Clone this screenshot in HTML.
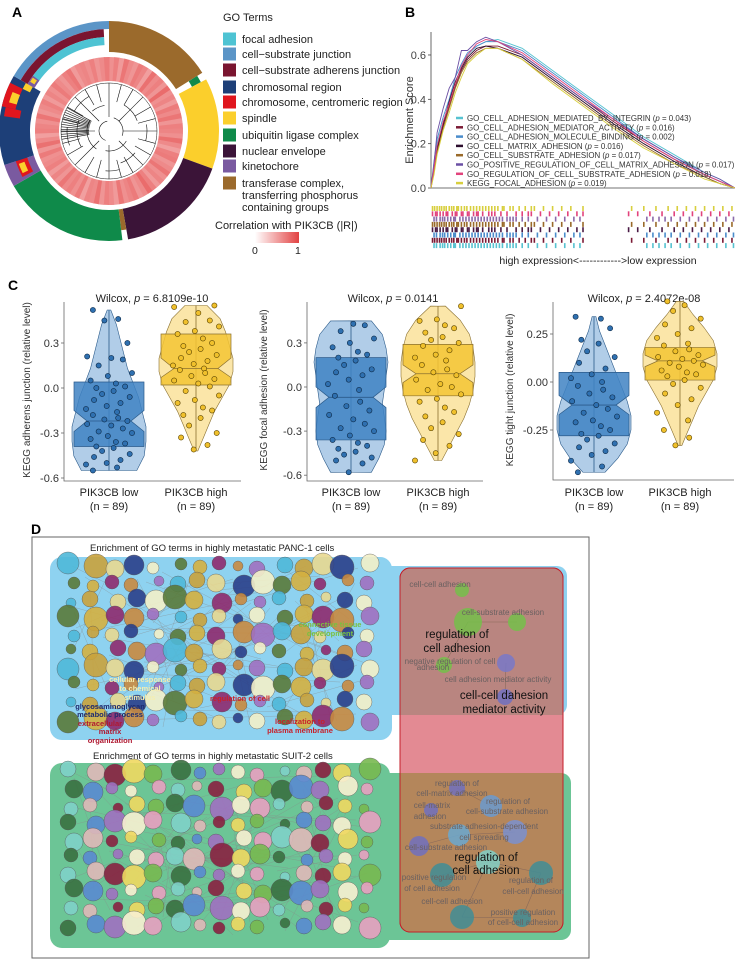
<!DOCTYPE html>
<html><head><meta charset="utf-8">
<style>
html,body{margin:0;padding:0;background:#fff;}
svg{display:block;font-family:"Liberation Sans",Arial,sans-serif;}
</style></head>
<body>
<svg id="fig" width="735" height="961" viewBox="0 0 735 961" xmlns="http://www.w3.org/2000/svg"></svg>
<script>
// ---------- DATA ----------
// Panel A
const goTerms = ["focal adhesion","cell\u2212substrate junction","cell\u2212substrate adherens junction","chromosomal region","chromosome, centromeric region"," spindle","ubiquitin ligase complex","nuclear envelope","kinetochore","transferase complex,"];
const goColors = ["#4ec3d3","#5b95c7","#7a1530","#1d3f78","#e0161e","#fbcf2c","#0f8a4a","#3b1438","#7a5aa0","#9b6a2c"];
// outer ring segments: [startDeg, endDeg, term index, rInner, rOuter]
const ringSegs = [[0,58,9,79,110],[58,62,6,94,104],[62,110,5,79,110],[110,170,7,79,110],[170,173,9,79,100],[173,240,6,79,110],
 [240,252,8,79,110],[242,256,4,86,98],[244,250,5,90,96],[252,300,3,79,110],[278,283,4,90,106],[283,296,4,96,110],[286,292,5,96,104],
 [296,300,5,88,96],[300,360,1,102,110],[300,357,2,94,102],[305,357,0,86,94],[300,306,8,86,94],[302,305,5,88,93]];
const heatVals = [0.55,0.7,0.45,0.8,0.6,0.5,0.75,0.65,0.4,0.85,0.6,0.7,0.5,0.9,0.55,0.65,0.45,0.75,0.6,0.8,0.5,0.7,0.65,0.55,0.85,0.6,0.4,0.7,0.75,0.5,
 0.6,0.8,0.55,0.65,0.45,0.7,0.9,0.6,0.5,0.75,0.65,0.55,0.8,0.45,0.6,0.7,0.5,0.85,0.6,0.65,0.4,0.75,0.55,0.7,0.6,0.8,0.5,0.65,0.45,0.7,
 0.6,0.55,0.75,0.5,0.85,0.6,0.4,0.7,0.65,0.55,0.8,0.5,0.6,0.7,0.45,0.65,0.55,0.75,0.6,0.5,0.7,0.8,0.45,0.6,0.65,0.55,0.7,0.5,0.6,0.75];
// Panel B
const gseaNames = ["GO_CELL_ADHESION_MEDIATED_BY_INTEGRIN","GO_CELL_ADHESION_MEDIATOR_ACTIVITY","GO_CELL_ADHESION_MOLECULE_BINDING","GO_CELL_MATRIX_ADHESION","GO_CELL_SUBSTRATE_ADHESION","GO_POSITIVE_REGULATION_OF_CELL_MATRIX_ADHESION","GO_REGULATION_OF_CELL_SUBSTRATE_ADHESION","KEGG_FOCAL_ADHESION"];
const gseaP = ["0.043","0.016","0.002","0.016","0.017","0.017","0.018","0.019"];
const gseaColors = ["#56c2d0","#7b1a35","#4a8ccb","#2b0d2d","#9a6a2a","#6a4fa4","#e2437c","#d8cf3e"];
const gseaX = [0,0.01,0.02,0.04,0.06,0.08,0.1,0.12,0.15,0.18,0.22,0.3,0.4,0.5,0.6,0.7,0.8,0.9,0.95,1];
const es0 = [0,0.1,0.2,0.3,0.38,0.47,0.55,0.6,0.64,0.66,0.67,0.63,0.53,0.43,0.33,0.23,0.15,0.07,0.04,0];
const es1 = [0,0.08,0.17,0.28,0.37,0.46,0.53,0.58,0.62,0.64,0.64,0.6,0.5,0.4,0.3,0.21,0.13,0.06,0.03,0];
const es2 = [0,0.12,0.22,0.32,0.4,0.5,0.56,0.61,0.64,0.66,0.66,0.62,0.52,0.42,0.32,0.22,0.14,0.06,0.03,0];
const es3 = [0,0.09,0.18,0.29,0.39,0.48,0.54,0.59,0.63,0.64,0.63,0.59,0.49,0.39,0.29,0.2,0.12,0.05,0.02,0];
const es4 = [0,0.07,0.16,0.27,0.36,0.45,0.52,0.57,0.61,0.63,0.63,0.58,0.48,0.38,0.28,0.19,0.11,0.05,0.02,0];
const es5 = [0,0.11,0.25,0.36,0.45,0.5,0.62,0.62,0.66,0.68,0.66,0.6,0.5,0.4,0.31,0.22,0.14,0.07,0.04,0];
const es6 = [0,0.09,0.19,0.3,0.38,0.47,0.55,0.6,0.65,0.67,0.66,0.61,0.51,0.41,0.31,0.21,0.13,0.06,0.03,0];
const es7 = [0,0.06,0.15,0.26,0.34,0.43,0.5,0.56,0.6,0.63,0.63,0.58,0.47,0.37,0.27,0.18,0.11,0.04,0.02,0];
const esSeries = [es0,es1,es2,es3,es4,es5,es6,es7];
const esTicks = [0,0.2,0.4,0.6];
const rugA = [0.005,0.012,0.02,0.028,0.035,0.043,0.05,0.06,0.068,0.075,0.085,0.09,0.1,0.11,0.118,0.13,0.14,0.15,0.16,0.17,0.18,0.19,0.2,0.21,0.22,0.235,0.24,0.26,0.27,0.29,0.31,0.33,0.34,0.37,0.4,0.43,0.46,0.5,0.66,0.7,0.74,0.78,0.81,0.84,0.87,0.9,0.93,0.96,0.99];
const rugB = [0.005,0.015,0.02,0.03,0.04,0.05,0.055,0.07,0.08,0.085,0.1,0.105,0.12,0.125,0.14,0.15,0.155,0.17,0.19,0.2,0.21,0.23,0.25,0.28,0.3,0.32,0.33,0.36,0.39,0.42,0.45,0.48,0.5,0.65,0.68,0.72,0.76,0.8,0.83,0.86,0.89,0.92,0.95,0.98];
const rugC = [0.01,0.018,0.03,0.038,0.045,0.055,0.065,0.075,0.08,0.095,0.105,0.115,0.125,0.135,0.145,0.155,0.165,0.175,0.185,0.195,0.205,0.215,0.225,0.235,0.25,0.26,0.27,0.28,0.3,0.32,0.35,0.38,0.41,0.44,0.47,0.49,0.71,0.73,0.75,0.77,0.79,0.82,0.85,0.88,0.91,0.94,0.97,0.995];
const rugRows = [rugA,rugB,rugC,rugA,rugB,rugC,rugA,rugC];
const rugColors = ["#d8cf3e","#e2437c","#8a6aaa","#9a6a2a","#4a1a45","#4a8ccb","#7b1a35","#56c2d0"];
// Panel C
const groups = ["PIK3CB low","PIK3CB high"];
const pTitles = ["Wilcox, p = 6.8109e-10","Wilcox, p = 0.0141","Wilcox, p = 2.4072e-08"];
const yTitles = ["KEGG adherens junction (relative level)","KEGG focal adhesion (relative level)","KEGG tight junction (relative level)"];
const ticks1 = [0.3,0,-0.3,-0.6], tickLab1 = ["0.3","0.0","-0.3","-0.6"];
const ticks2 = [0.3,0,-0.3,-0.6], tickLab2 = ["0.3","0.0","-0.3","-0.6"];
const ticks3 = [0.25,0,-0.25], tickLab3 = ["0.25","0.00","-0.25"];
// box stats: [whiskerTop, q3, notchHi, median, notchLo, q1, whiskerBot]
const box1L = [0.52,0.04,-0.15,-0.22,-0.29,-0.39,-0.55];
const box1H = [0.55,0.36,0.2,0.13,0.07,0.02,-0.42];
const box2L = [0.45,0.2,0.0,-0.07,-0.14,-0.36,-0.58];
const box2H = [0.55,0.29,0.15,0.09,0.03,-0.06,-0.5];
const box3L = [0.34,0.05,-0.07,-0.12,-0.17,-0.28,-0.47];
const box3H = [0.42,0.18,0.14,0.11,0.08,0.01,-0.33];
// violin widths (relative) from whiskerTop to whiskerBot
const vio1L = [0.05,0.2,0.3,0.4,0.5,0.65,0.8,0.9,1,1,0.95,0.75];
const vio1H = [0.3,0.65,0.8,0.9,1,1,0.9,0.7,0.5,0.35,0.2,0.05];
const vio2L = [0.55,0.85,0.95,1,0.95,0.9,0.85,0.9,0.95,0.9,0.75,0.55];
const vio2H = [0.2,0.6,0.85,0.95,1,1,0.95,0.85,0.7,0.5,0.3,0.1];
const vio3L = [0.05,0.15,0.3,0.45,0.6,0.75,0.9,1,1,0.9,0.65,0.3];
const vio3H = [0.1,0.35,0.65,0.9,1,1,0.9,0.7,0.5,0.35,0.2,0.05];
const pts1L = [0.52,0.46,0.45,0.3,0.21,0.2,0.19,0.15,0.1,0.08,0.05,0.03,0.01,0,-0.02,-0.04,-0.06,-0.08,-0.1,-0.12,-0.14,-0.16,-0.18,-0.2,-0.21,-0.22,-0.24,-0.25,-0.27,-0.29,-0.3,-0.32,-0.34,-0.36,-0.37,-0.39,-0.4,-0.42,-0.44,-0.46,-0.48,-0.5,-0.51,-0.53,-0.55];
const pts1H = [0.55,0.54,0.5,0.45,0.44,0.41,0.38,0.36,0.33,0.3,0.28,0.26,0.24,0.22,0.2,0.18,0.16,0.15,0.13,0.12,0.1,0.08,0.06,0.05,0.03,0.01,-0.02,-0.05,-0.08,-0.1,-0.13,-0.15,-0.18,-0.2,-0.25,-0.3,-0.33,-0.38,-0.41];
const pts2L = [0.43,0.42,0.38,0.33,0.3,0.27,0.24,0.22,0.2,0.18,0.15,0.12,0.1,0.08,0.05,0.02,-0.02,-0.06,-0.1,-0.13,-0.16,-0.19,-0.22,-0.25,-0.28,-0.3,-0.33,-0.36,-0.38,-0.4,-0.42,-0.44,-0.46,-0.48,-0.5,-0.52,-0.58];
const pts2H = [0.55,0.46,0.45,0.42,0.4,0.37,0.34,0.32,0.3,0.28,0.25,0.22,0.2,0.18,0.15,0.12,0.1,0.08,0.05,0.02,0,-0.02,-0.05,-0.08,-0.1,-0.14,-0.17,-0.2,-0.24,-0.28,-0.32,-0.36,-0.4,-0.45,-0.5];
const pts3L = [0.34,0.33,0.28,0.22,0.2,0.16,0.13,0.1,0.07,0.04,0.02,0,-0.02,-0.04,-0.06,-0.08,-0.1,-0.12,-0.14,-0.16,-0.18,-0.2,-0.21,-0.23,-0.25,-0.27,-0.28,-0.3,-0.32,-0.34,-0.36,-0.38,-0.41,-0.44,-0.47];
const pts3H = [0.42,0.4,0.37,0.33,0.3,0.28,0.25,0.23,0.2,0.19,0.17,0.16,0.14,0.13,0.12,0.11,0.1,0.09,0.08,0.06,0.05,0.04,0.03,0.01,-0.01,-0.03,-0.06,-0.09,-0.12,-0.16,-0.2,-0.25,-0.29,-0.33];

// ---------- HELPERS ----------
const NS="http://www.w3.org/2000/svg";
const svg=document.getElementById('fig');
function mk(tag,attrs,parent){const e=document.createElementNS(NS,tag);for(const k in attrs)e.setAttribute(k,attrs[k]);(parent||svg).appendChild(e);return e;}
function txt(s,x,y,size,opts,parent){const o=Object.assign({x:x,y:y,'font-size':size,fill:'#222'},opts||{});const e=mk('text',o,parent);e.textContent=s;return e;}
function pol(cx,cy,r,deg){const a=(deg-90)*Math.PI/180;return [cx+r*Math.cos(a),cy+r*Math.sin(a)];}
function arcPath(cx,cy,r0,r1,a0,a1){const p1=pol(cx,cy,r1,a0),p2=pol(cx,cy,r1,a1),p3=pol(cx,cy,r0,a1),p4=pol(cx,cy,r0,a0);const lg=(a1-a0)>180?1:0;
return `M${p1[0]},${p1[1]}A${r1},${r1} 0 ${lg} 1 ${p2[0]},${p2[1]}L${p3[0]},${p3[1]}A${r0},${r0} 0 ${lg} 0 ${p4[0]},${p4[1]}Z`;}
let e;

// ---------- PANEL A ----------
e=txt('A',12,17,14,{'font-weight':'bold',fill:'#000'});


const gA=mk('g',{});


const cxA=109,cyA=131;
const nH=heatVals.length;
heatVals.forEach((v,i)=>{
  const a0=i*360/nH,a1=(i+1)*360/nH+0.4;
  const t=0.3+0.55*v;
  const r=Math.round(255-(255-228)*t),g=Math.round(255-(255-70)*t),b=Math.round(255-(255-70)*t);
  const w=mk('path',{d:arcPath(cxA,cyA,50,74,a0,a1),fill:`rgb(${r},${g},${b})`},gA);
  
  
});
ringSegs.forEach(s=>{
  const w=mk('path',{d:arcPath(cxA,cyA,s[3],s[4],s[0],s[1]),fill:goColors[s[2]]},gA);
  
  
});
// dendrogram (decorative)
const dg=mk('g',{stroke:'#111','stroke-width':0.6,fill:'none'},gA);


const dAng=[[200,350,10],[215,300,22],[240,290,32],[320,350,26],[20,110,14],[30,70,30],[80,105,38],[120,190,20],[130,160,34],[165,185,40],[250,275,42],[300,330,40]];
dAng.forEach(d=>{const p1=pol(cxA,cyA,d[2],d[0]),p2=pol(cxA,cyA,d[2],d[1]);
  mk('path',{d:`M${p1[0]},${p1[1]}A${d[2]},${d[2]} 0 ${(d[1]-d[0])>180?1:0} 1 ${p2[0]},${p2[1]}`},dg);});
for(let a=0;a<360;a+=15){const r0=(a%45===0)?14:30;const p1=pol(cxA,cyA,r0,a),p2=pol(cxA,cyA,48,a);mk('line',{x1:p1[0],y1:p1[1],x2:p2[0],y2:p2[1]},dg);}
for(let a=260;a<300;a+=3){const p1=pol(cxA,cyA,20,a),p2=pol(cxA,cyA,48,a);mk('line',{x1:p1[0],y1:p1[1],x2:p2[0],y2:p2[1]},dg);}
mk('circle',{cx:cxA,cy:cyA,r:48,'stroke-width':0.5},dg);
// legend
e=txt('GO Terms',223,21,11);


const legY=[39,54,70,87,102,118,135,151,166,183];
goTerms.forEach((t,i)=>{
  const r=mk('rect',{x:223,y:legY[i]-6.5,width:13,height:13,fill:goColors[i]});
  
  
  const tt=txt(t,242,legY[i]+4,11);
  
  
});
e=txt('transferring phosphorus',242,199,11);


e=txt('containing groups',242,211,11);


e=txt('Correlation with PIK3CB (|R|)',215,229,11);


const defs=mk('defs',{});
const lg=mk('linearGradient',{id:'redgrad',x1:0,x2:1,y1:0,y2:0},defs);
mk('stop',{offset:0,'stop-color':'#ffffff'},lg);mk('stop',{offset:1,'stop-color':'#e24242'},lg);
e=mk('rect',{x:255,y:232,width:44,height:11,fill:'url(#redgrad)'});


e=txt('0',252,254,10.5);


e=txt('1',295,254,10.5);



// ---------- PANEL B ----------
e=txt('B',405,17,14,{'font-weight':'bold',fill:'#000'});


const bx0=431,bx1=735,by0=188,byU=221.7;
const bX=f=>bx0+f*(bx1-bx0), bY=v=>by0-v*byU;
e=mk('line',{x1:bx0,y1:32,x2:bx0,y2:by0,stroke:'#444','stroke-width':0.8});


e=mk('line',{x1:bx0,y1:by0,x2:bx1,y2:by0,stroke:'#444','stroke-width':0.8});


esTicks.forEach(t=>{
  mk('line',{x1:bx0-3,x2:bx0,y1:bY(t),y2:bY(t),stroke:'#444','stroke-width':0.8});
  const tl=txt(t.toFixed(1),bx0-5,bY(t)+4,11,{'text-anchor':'end',fill:'#444'});
  
  
});
e=txt('Enrichment Score',0,0,11,{'text-anchor':'middle',transform:`translate(413,120) rotate(-90)`,fill:'#333'});


esSeries.forEach((s,k)=>{
  const d=s.map((v,i)=>(i?'L':'M')+bX(gseaX[i]).toFixed(1)+','+bY(v).toFixed(1)).join('');
  const p=mk('path',{d:d,fill:'none',stroke:gseaColors[k],'stroke-width':0.9});
  
  
});
gseaNames.forEach((n,k)=>{
  const y=118+k*9.3;
  const l=mk('line',{x1:456,x2:463,y1:y,y2:y,stroke:gseaColors[k],'stroke-width':2.5});
  
  
  const t=mk('text',{x:467,y:y+3,'font-size':7.9,fill:'#333'});
  t.innerHTML=n+' (<tspan font-style="italic">p</tspan> = '+gseaP[k]+')';
  
  
});
rugRows.forEach((row,k)=>{
  const y=206+k*5.3;
  row.forEach(f=>{
    const l=mk('line',{x1:bX(f),x2:bX(f),y1:y,y2:y+5,stroke:rugColors[k],'stroke-width':1.6});
    
    
  });
});
e=txt('high expression<------------>low expression',598,264,10.5,{'text-anchor':'middle'});



// ---------- PANEL C ----------
e=txt('C',8,290,14,{'font-weight':'bold',fill:'#000'});


const jit=[-14,8,-4,16,-19,2,12,-9,20,-1,-16,6,14,-11,4,-6,18,-13,10,-2,-20,7];
const plots=[
 {ax:64,right:241,c:[109,196],y0:388,yU:150,top:302,bot:481,ticks:ticks1,lab:tickLab1,box:[box1L,box1H],vio:[vio1L,vio1H],pts:[pts1L,pts1H],tx:152,yl:30},
 {ax:307,right:483,c:[351,438],y0:387,yU:147,top:302,bot:481,ticks:ticks2,lab:tickLab2,box:[box2L,box2H],vio:[vio2L,vio2H],pts:[pts2L,pts2H],tx:393,yl:267},
 {ax:553,right:734,c:[594,680],y0:382,yU:192,top:302,bot:480,ticks:ticks3,lab:tickLab3,box:[box3L,box3H],vio:[vio3L,vio3H],pts:[pts3L,pts3H],tx:644,yl:513}
];
const vioFill=['#a9c8e6','#fbe3a0'],boxFill=['#3f82c3','#f3c434'],ptFill=['#2f70b0','#f0c02c'],ptStroke=['#0d2a48','#5a4400'],edge=['#2a5a8a','#8a7030'];
plots.forEach((P,pi)=>{
  const g=mk('g',{});
  
  
  const Y=v=>P.y0-v*P.yU;
  const t=mk('text',{x:P.tx,y:302,'font-size':11,'text-anchor':'middle',fill:'#222'},g);
  t.innerHTML=pTitles[pi].replace('p =','<tspan font-style="italic">p</tspan> =');
  
  
  const ya=mk('path',{d:`M${P.ax},${P.top}V${P.bot}H${P.right}`,fill:'none',stroke:'#666','stroke-width':0.8},g);
  
  
  P.ticks.forEach((tv,i)=>{
    mk('line',{x1:P.ax-3,x2:P.ax,y1:Y(tv),y2:Y(tv),stroke:'#666','stroke-width':0.8},g);
    const tl=txt(P.lab[i],P.ax-5,Y(tv)+4,11,{'text-anchor':'end',fill:'#333'},g);
    
    
  });
  const yt=txt(yTitles[pi],0,0,10,{'text-anchor':'middle',transform:`translate(${P.yl},390) rotate(-90)`,fill:'#333'},g);
  
  
  [0,1].forEach(gi=>{
    const cx=P.c[gi],B=P.box[gi],W=P.vio[gi];
    const yT=Y(B[0]),yB=Y(B[6]),n=W.length;
    let L=[],R=[];
    W.forEach((w,i)=>{const yy=yT+(yB-yT)*i/(n-1);R.push([cx+w*37,yy]);L.push([cx-w*37,yy]);});
    const d='M'+cx+','+yT+R.map(p=>'L'+p[0].toFixed(1)+','+p[1].toFixed(1)).join('')+'L'+cx+','+yB+L.reverse().map(p=>'L'+p[0].toFixed(1)+','+p[1].toFixed(1)).join('')+'Z';
    const v=mk('path',{d:d,fill:vioFill[gi],stroke:edge[gi],'stroke-width':0.6,'fill-opacity':0.9},g);
    
    
    const wl=mk('line',{x1:cx,x2:cx,y1:Y(B[0]),y2:Y(B[6]),stroke:edge[gi],'stroke-width':0.8},g);
    
    
    const hw=35,nw=22;
    const bd=`M${cx-hw},${Y(B[1])}H${cx+hw}V${Y(B[2])}L${cx+nw},${Y(B[3])}L${cx+hw},${Y(B[4])}V${Y(B[5])}H${cx-hw}V${Y(B[4])}L${cx-nw},${Y(B[3])}L${cx-hw},${Y(B[2])}Z`;
    const bx=mk('path',{d:bd,fill:boxFill[gi],'fill-opacity':0.85,stroke:edge[gi],'stroke-width':0.7},g);
    
    
    const ml=mk('line',{x1:cx-nw,x2:cx+nw,y1:Y(B[3]),y2:Y(B[3]),stroke:edge[gi],'stroke-width':0.8},g);
    
    
    P.pts[gi].forEach((pv,i)=>{
      const c=mk('circle',{cx:cx+jit[(i+pi*5+gi*3)%jit.length]*1.15,cy:Y(pv),r:2.6,fill:ptFill[gi],stroke:ptStroke[gi],'stroke-width':0.6},g);
      
      
    });
    const xl=txt(groups[gi],cx,496,11,{'text-anchor':'middle'},g);
    
    
    const nl=txt('(n = 89)',cx,510,11,{'text-anchor':'middle'},g);
    
    
  });
});

// ---------- PANEL D ----------
e=txt('D',31,534,14,{'font-weight':'bold',fill:'#000'});


e=mk('rect',{x:32,y:537,width:557,height:421,fill:'#fff',stroke:'#666','stroke-width':1});


e=txt('Enrichment of GO terms in highly metastatic PANC-1 cells',90,551,9.5);


e=txt('Enrichment of GO terms in highly metastatic SUIT-2 cells',93,759,9.5);


e=mk('rect',{x:50,y:557,width:342,height:183,rx:12,fill:'#8ed2f0'});


e=mk('rect',{x:380,y:566,width:187,height:149,rx:10,fill:'#8ed2f0'});


e=mk('rect',{x:50,y:763,width:340,height:185,rx:12,fill:'#6cc596'});


e=mk('rect',{x:380,y:773,width:191,height:167,rx:10,fill:'#6cc596'});


// circle clouds (decorative)
const palBlue=['#c9a23c','#f3efc8','#8e2a6e','#4fb8d8','#2a3f8a','#d4b040','#a070c0','#e8d890','#5a7a3a','#c88a40'];
const palGreen=['#e0b8b8','#78b850','#a070c0','#7fd0c8','#f0d860','#5a8ad0','#e8a0c0','#8a2040','#3a7040','#f8f0d0'];
const sz=[9,7,11,6,8,10,5,12,7,9,6,8];
function cloud(x0,y0,x1,y1,pal,name){
  const g=mk('g',{});
  
  
  for(let k=0;k<60;k++){const xa=x0+((k*53)%(x1-x0)),ya=y0+((k*31)%(y1-y0)),xb=x0+((k*97+40)%(x1-x0)),yb=y0+((k*71+20)%(y1-y0));
    mk('line',{x1:xa,y1:ya,x2:xb,y2:yb,stroke:'#888','stroke-width':0.4,'stroke-opacity':0.7},g);}
  let i=0;
  for(let y=y0;y<=y1;y+=17){for(let x=x0;x<=x1;x+=21){
    const r=sz[(i*5+Math.floor(y))%sz.length];
    const c=mk('circle',{cx:x+((i*7)%9)-4,cy:y+((i*3)%7)-3,r:r,fill:pal[(i*7+3)%pal.length],stroke:'#555','stroke-width':0.4,'fill-opacity':0.9},g);
    
    
    i++;}}
  return g;
}
cloud(72,566,372,728,palBlue,'panc1-network');
cloud(72,772,372,936,palGreen,'suit2-network');
const leftLabels=[["cellular response",140,682,'#f4eeb0'],["to chemical",140,691,'#f4eeb0'],["stimulus",140,700,'#f4eeb0'],["glycosaminoglycan",110,709,'#1e2a6e'],["metabolic process",110,717,'#1e2a6e'],["extracellular",100,726,'#b01830'],["matrix",110,734,'#b01830'],["organization",110,743,'#b01830'],
 ["localization to",300,724,'#c8202a'],["plasma membrane",300,733,'#c8202a'],["connective tissue",330,627,'#7ac040'],["development",330,636,'#7ac040'],["regulation of cell",240,701,'#c8202a']];
leftLabels.forEach(l=>{const t=txt(l[0],l[1],l[2],7.5,{'text-anchor':'middle','font-weight':'bold',fill:l[3]});
  
  });
// red shared box
e=mk('rect',{x:400,y:568,width:163,height:364,rx:10,fill:'#e38a93',stroke:'#c41e2a','stroke-width':1});


e=mk('path',{d:'M410,568H553A10,10 0 0 1 563,578V715H400V578A10,10 0 0 1 410,568Z',fill:'#b98580'});


e=mk('path',{d:'M400,773H563V922A10,10 0 0 1 553,932H410A10,10 0 0 1 400,922Z',fill:'#b4865b'});


e=mk('rect',{x:400,y:568,width:163,height:364,rx:10,fill:'none',stroke:'#c41e2a','stroke-width':1});
const nodesR=[[468,622,14,'#74c04a'],[517,622,9,'#74c04a'],[444,665,8,'#74c04a'],[506,663,9,'#7878c8'],[505,697,8,'#7070c0'],[462,590,7,'#74c04a'],
 [457,788,8,'#7070c0'],[431,810,7,'#7070c0'],[491,806,11,'#6a9ad0'],[459,835,11,'#6aa8d0'],[515,832,12,'#7a90d0'],[419,846,10,'#7070c0'],
 [488,862,12,'#80d0c8'],[442,875,12,'#3f8d97'],[541,873,12,'#3f8d97'],[462,917,12,'#3f8d97'],[522,918,9,'#3f8d97']];
const gr=mk('g',{stroke:'#8a6a5a','stroke-width':0.6});
[[468,622,517,622],[468,622,444,665],[506,663,505,697],[457,788,491,806],[459,835,515,832],[488,862,442,875],[488,862,541,873],[488,862,462,917],[462,917,522,918],[541,873,522,918],[419,846,459,835]].forEach(l=>mk('line',{x1:l[0],y1:l[1],x2:l[2],y2:l[3]},gr));
nodesR.forEach(n=>{const c=mk('circle',{cx:n[0],cy:n[1],r:n[2],fill:n[3],'fill-opacity':0.85});
  
  });
const grayLabels=[["cell-cell adhesion",440,587],["cell-substrate adhesion",503,615],["negative regulation of cell",450,664],["adhesion",433,670],["cell adhesion mediator activity",498,682],
 ["regulation of",457,786],["cell-matrix adhesion",452,796],["cell-matrix",432,808],["adhesion",430,819],["regulation of",508,804],["cell-substrate adhesion",507,814],
 ["substrate adhesion-dependent",484,829],["cell spreading",484,840],["cell-substrate adhesion",446,850],["positive regulation",434,880],["of cell adhesion",432,891],
 ["regulation of",531,883],["cell-cell adhesion",533,894],["cell-cell adhesion",452,904],["positive regulation",523,915],["of cell-cell adhesion",523,925]];
grayLabels.forEach(l=>{const t=txt(l[0],l[1],l[2],8,{'text-anchor':'middle',fill:'#6a6060'});
  
  });
const blackLabels=[["regulation of",457,638],["cell adhesion",457,652],["cell-cell dahesion",504,699],["mediator activity",504,713],["regulation of",486,861],["cell adhesion",486,874]];
blackLabels.forEach(l=>{const t=txt(l[0],l[1],l[2],11.5,{'text-anchor':'middle',fill:'#111'});
  
  });
</script>
</body></html>
